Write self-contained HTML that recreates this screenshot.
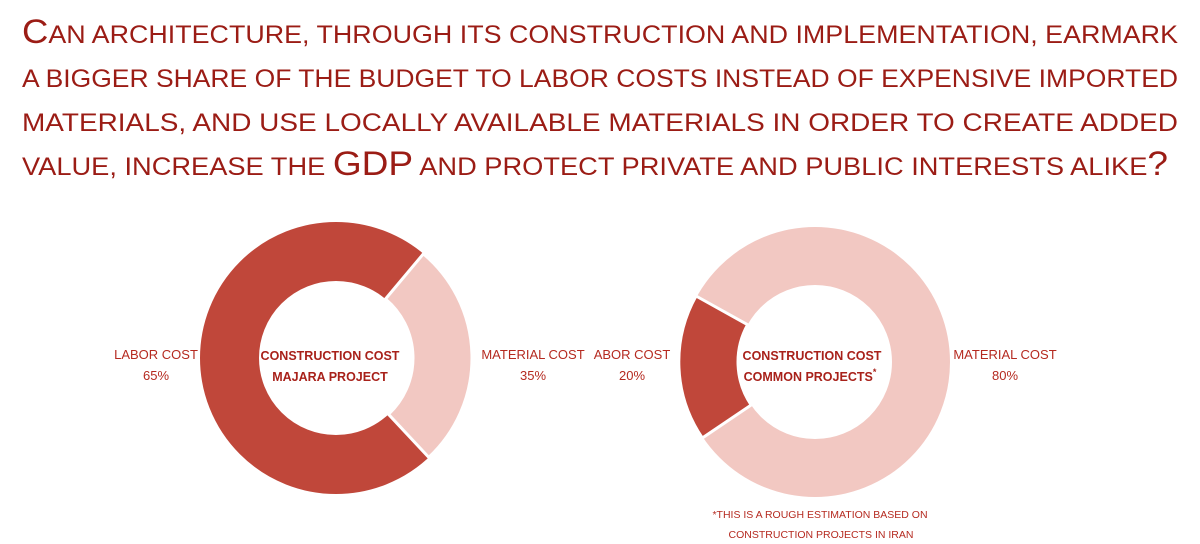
<!DOCTYPE html>
<html><head><meta charset="utf-8"><style>
html,body{margin:0;padding:0;background:#fff;}
svg{display:block;}
.t{font-family:"Liberation Sans",sans-serif;font-size:25px;fill:#9b1c15;}
.t .c{font-size:34px;}
.l{font-family:"Liberation Sans",sans-serif;font-size:13px;fill:#b52a20;text-anchor:middle;}
.b{font-family:"Liberation Sans",sans-serif;font-size:12.5px;font-weight:bold;fill:#a8211a;text-anchor:middle;}
.f{font-family:"Liberation Sans",sans-serif;font-size:10.5px;fill:#b52a20;text-anchor:middle;}
</style></head><body>
<svg width="1200" height="544" viewBox="0 0 1200 544">
<text class="t" x="22" y="43" textLength="1156" lengthAdjust="spacingAndGlyphs"><tspan class="c">C</tspan>AN ARCHITECTURE, THROUGH ITS CONSTRUCTION AND IMPLEMENTATION, EARMARK</text>
<text class="t" x="22" y="87" textLength="1156" lengthAdjust="spacingAndGlyphs">A BIGGER SHARE OF THE BUDGET TO LABOR COSTS INSTEAD OF EXPENSIVE IMPORTED</text>
<text class="t" x="22" y="131" textLength="1156" lengthAdjust="spacingAndGlyphs">MATERIALS, AND USE LOCALLY AVAILABLE MATERIALS IN ORDER TO CREATE ADDED</text>
<text class="t" x="22" y="175" textLength="1146" lengthAdjust="spacingAndGlyphs">VALUE, INCREASE THE <tspan class="c">GDP</tspan> AND PROTECT PRIVATE AND PUBLIC INTERESTS ALIKE<tspan class="c">?</tspan></text>

<circle cx="336" cy="358" r="106.5" fill="none" stroke="#c0473a" stroke-width="59"/>
<path d="M423.4,253.8 A136 136 0 0 1 428.8,457.4 L388.5,414.3 A77 77 0 0 0 385.5,299.0 Z" fill="#f2c8c2" stroke="#fff" stroke-width="3"/>

<circle cx="815" cy="362" r="106" fill="none" stroke="#f2c8c2" stroke-width="58"/>
<path d="M702.3,438 A135 135 0 0 1 696,296 L747.6,324.7 A77 77 0 0 0 751.2,405 Z" fill="#c0473a" stroke="#fff" stroke-width="3"/>

<text class="l" x="156" y="359">LABOR COST</text>
<text class="l" x="156" y="380">65%</text>
<text class="b" x="330" y="360">CONSTRUCTION COST</text>
<text class="b" x="330" y="381">MAJARA PROJECT</text>
<text class="l" x="533" y="359">MATERIAL COST</text>
<text class="l" x="533" y="380">35%</text>

<text class="l" x="632" y="359">ABOR COST</text>
<text class="l" x="632" y="380">20%</text>
<text class="b" x="812" y="360">CONSTRUCTION COST</text>
<text class="b" x="810" y="381">COMMON PROJECTS<tspan font-size="9" dy="-6">*</tspan></text>
<text class="l" x="1005" y="359">MATERIAL COST</text>
<text class="l" x="1005" y="380">80%</text>

<text class="f" x="820" y="518">*THIS IS A ROUGH ESTIMATION BASED ON</text>
<text class="f" x="821" y="538">CONSTRUCTION PROJECTS IN IRAN</text>
</svg>
</body></html>
